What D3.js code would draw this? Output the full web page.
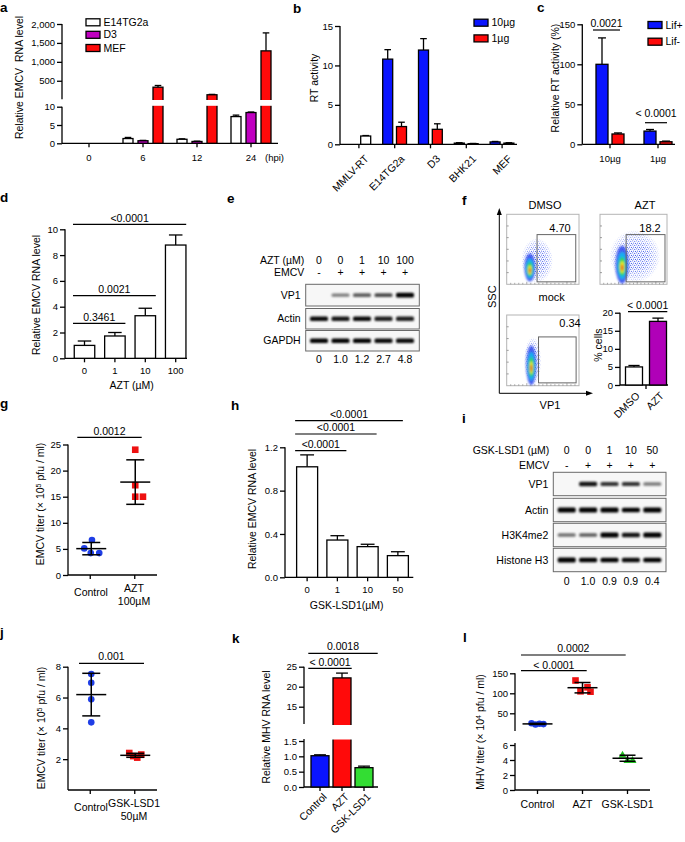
<!DOCTYPE html>
<html><head><meta charset="utf-8">
<script src="https://cdn.jsdelivr.net/npm/d3@7/dist/d3.min.js"></script>
<style>html,body{margin:0;padding:0;background:#fff;}svg{display:block}</style>
</head><body>
<script>
// ===================== DATA =====================
// a
const aTimes = ["0","6","12","24"];
const aSeries = ["E14TG2a","D3","MEF"];
const aE14 = [0, 1.3, 1.1, 7.3];
const aE14Err = [0, 0.3, 0.12, 0.4];
const aD3 = [0, 0.7, 0.5, 8.4];
const aD3Err = [0, 0.1, 0.08, 0.15];
const aMEF = [0, 330, 130, 1290];
const aMEFErr = [0, 45, 10, 475];
const aTicksLow = [0, 5, 10];
const aTicksHigh = [500, 1000, 1500, 2000];
// b
const bCats = ["MMLV-RT","E14TG2a","D3","BHK21","MEF"];
const bSeries = ["10µg","1µg"];
const bMMLV = [1.05, 0, 0, 0, 0];
const bMMLVErr = [0.06, 0, 0, 0, 0];
const b10 = [0, 10.8, 11.95, 0.15, 0.3];
const b10Err = [0, 1.2, 1.45, 0.05, 0.06];
const b1 = [0, 2.25, 1.9, 0.08, 0.15];
const b1Err = [0, 0.55, 0.7, 0.03, 0.05];
const bTicks = [0, 5, 10, 15];
// c
const cCats = ["10µg","1µg"];
const cSeries = ["Lif+","Lif-"];
const cLifPlus = [100, 16.5];
const cLifPlusErr = [33, 2];
const cLifMinus = [12.9, 3.2];
const cLifMinusErr = [1.3, 0.8];
const cTicks = [0, 50, 100, 150];
const cP = ["0.0021", "< 0.0001"];
// d
const dCats = ["0","1","10","100"];
const dVals = [1.0, 1.73, 3.3, 8.78];
const dErr = [0.34, 0.27, 0.58, 0.78];
const dTicks = [0, 2, 4, 6, 8, 10];
const dP = [["0","1","0.3461"],["0","10","0.0021"],["0","100","<0.0001"]];
// e
const eAZT = ["0","0","1","10","100"];
const eEMCV = ["-","+","+","+","+"];
const eRows = ["VP1","Actin","GAPDH"];
const eVP1 = [0, 0.35, 0.5, 0.6, 1.0];
const eActin = [0.9, 0.85, 0.9, 0.8, 0.8];
const eGAPDH = [0.95, 0.95, 0.95, 0.9, 0.9];
const eQuant = ["0","1.0","1.2","2.7","4.8"];
// f
const fPct = ["4.70","18.2","0.34"];
const fCats = ["DMSO","AZT"];
const fVals = [5.0, 17.6];
const fErr = [0.4, 0.9];
const fTicks = [0, 5, 10, 15, 20];
// g
const gCats = ["Control","AZT 100µM"];
const gControl = [5.1, 6.7, 4.2, 4.2];
const gAZT = [24, 17.2, 15, 15];
const gTicks = [0, 5, 10, 15, 20, 25];
// h
const hCats = ["0","1","10","50"];
const hVals = [1.02, 0.344, 0.283, 0.20];
const hErr = [0.11, 0.04, 0.022, 0.036];
const hTicks = [0, 0.4, 0.8, 1.2];
// i
const iLSD = ["0","0","1","10","50"];
const iEMCV = ["-","+","+","+","+"];
const iRows = ["VP1","Actin","H3K4me2","Histone H3"];
const iVP1 = [0, 0.85, 0.7, 0.7, 0.35];
const iActin = [1, 1, 1, 0.95, 1];
const iH3K4 = [0.4, 0.5, 1.0, 0.85, 1.0];
const iH3 = [1, 0.95, 0.95, 0.9, 0.95];
const iQuant = ["0","1.0","0.9","0.9","0.4"];
// j
const jCats = ["Control","GSK-LSD1 50µM"];
const jControl = [7.53, 6.96, 5.88, 4.39];
const jGSK = [2.4, 2.2, 2.1, 2.3];
const jTicks = [2, 4, 6, 8];
// k
const kCats = ["Control","AZT","GSK-LSD1"];
const kVals = [1.02, 22.2, 0.63];
const kErr = [0.03, 1.2, 0.05];
const kTicksLow = [0, 0.5, 1.0, 1.5];
const kTicksHigh = [15, 20, 25];
// l
const lCats = ["Control","AZT","GSK-LSD1"];
const lControl = [25, 22, 24, 23];
const lAZT = [132, 115, 105, 104];
const lGSK = [4.7, 4.0, 4.0];
const lTicksLow = [0, 2, 4, 6];
const lTicksHigh = [50, 100, 150];

// ===================== HELPERS =====================
const FONT = "'Liberation Sans', Arial, Helvetica, sans-serif";
const F = {tick: 9.5, lab: 10.5, panel: 13.5};
const SW = 1.3;
const BLUE = "#0a14ff", RED = "#ff0a0a", PURPLE = "#c000c0", GREEN = "#33dd33";
const svg = d3.select("body").append("svg").attr("width", 685).attr("height", 842)
  .attr("font-family", FONT);
svg.append("rect").attr("width", 685).attr("height", 842).attr("fill", "#fff");
const defs = svg.append("defs");
defs.append("filter").attr("id", "blur1").attr("x", "-50%").attr("y", "-150%").attr("width", "200%").attr("height", "400%")
  .append("feGaussianBlur").attr("stdDeviation", 0.9);
defs.append("filter").attr("id", "blur2").attr("x", "-50%").attr("y", "-50%").attr("width", "200%").attr("height", "200%")
  .append("feGaussianBlur").attr("stdDeviation", 1.1);
// stipple pattern for the sparse part of the flow-cytometry clouds
const pat = defs.append("pattern").attr("id", "dots").attr("patternUnits", "userSpaceOnUse")
  .attr("width", 4).attr("height", 4);
[[0.7, 0.8], [2.7, 1.4], [1.5, 3.1], [3.5, 3.4]].forEach(([x, y]) =>
  pat.append("circle").attr("cx", x).attr("cy", y).attr("r", 0.6).attr("fill", "#3a55ee"));
const fade = defs.append("radialGradient").attr("id", "fade");
[[0, 1], [0.5, 0.85], [0.85, 0.35], [1, 0]].forEach(([o, a]) =>
  fade.append("stop").attr("offset", o).attr("stop-color", "#fff").attr("stop-opacity", a));

function T(x, y, s, o = {}) {
  const t = svg.append("text").attr("x", x).attr("y", y).text(s)
    .attr("font-size", o.size || F.lab).attr("text-anchor", o.anchor || "middle")
    .attr("dy", o.dy === undefined ? "0.35em" : o.dy).attr("fill", o.fill || "#000");
  if (o.weight) t.attr("font-weight", o.weight);
  if (o.rotate !== undefined) t.attr("transform", `rotate(${o.rotate},${x},${y})`);
  return t;
}
function L(x1, y1, x2, y2, o = {}) {
  return svg.append("line").attr("x1", x1).attr("y1", y1).attr("x2", x2).attr("y2", y2)
    .attr("stroke", o.c || "#000").attr("stroke-width", o.w || SW);
}
function R(x, y, w, h, fill, stroke) {
  return svg.append("rect").attr("x", x).attr("y", y).attr("width", w).attr("height", h)
    .attr("fill", fill).attr("stroke", stroke ? "#000" : "none").attr("stroke-width", SW);
}
function panel(x, y, s) { T(x, y, s, {anchor: "start", dy: 0, weight: "bold", size: F.panel}); }
function yAxis(x, scale, ticks, fmt, y0, y1, size) {
  const g = svg.append("g").attr("transform", `translate(${x},0)`)
    .call(d3.axisLeft(scale).tickValues(ticks).tickFormat(fmt).tickSizeOuter(0).tickSizeInner(5).tickPadding(2));
  g.attr("font-family", FONT).attr("font-size", size || F.tick);
  g.select(".domain").remove();
  g.selectAll(".tick line").attr("stroke-width", SW);
  g.selectAll(".tick text").attr("fill", "#000");
  L(x, y0, x, y1);
  return g;
}
function xAxis(y, scale, x0, x1, pad, keepLabels, size) {
  const g = svg.append("g").attr("transform", `translate(0,${y})`)
    .call(d3.axisBottom(scale).tickSizeOuter(0).tickSizeInner(4).tickPadding(pad));
  g.attr("font-family", FONT).attr("font-size", size || F.tick);
  g.select(".domain").remove();
  g.selectAll(".tick line").attr("stroke-width", SW);
  g.selectAll(".tick text").attr("fill", "#000");
  if (!keepLabels) g.selectAll(".tick text").remove();
  L(x0, y, x1, y);
  return g;
}
function cen(scale, c) { return scale(c) + scale.bandwidth() / 2; }
function bar(cx, w, v, e, yL, fill, yU, brk, gap) {
  if (!(v > 0)) return;
  const up = yU && v > brk;
  const top = up ? yU(v) : yL(v);
  const base = yL(0);
  if (e > 0) {
    const et = up ? yU(v + e) : yL(v + e);
    L(cx, top, cx, et); L(cx - w * 0.33, et, cx + w * 0.33, et);
  }
  R(cx - w / 2, top, w, base - top, fill, true);
  if (up) R(cx - w / 2 - 1.5, gap[0], w + 3, gap[1] - gap[0], "#fff", false);
}
function sig(x1, x2, y, label, dyText) {
  L(x1, y, x2, y, {w: 1.2});
  T((x1 + x2) / 2, y - (dyText || 6.3), label, {size: F.lab});
}
function legendBox(x, y, fill, label) {
  R(x, y - 3.5, 14, 7, fill, true);
  T(x + 17.5, y, label, {anchor: "start", size: F.lab});
}
function meanSD(cx, vals, yf, hm, hc) {
  const m = d3.mean(vals), s = d3.deviation(vals);
  L(cx - hm, yf(m), cx + hm, yf(m), {w: 1.5});
  L(cx, yf(m + s), cx, yf(m - s), {w: 1.5});
  L(cx - hc, yf(m + s), cx + hc, yf(m + s), {w: 1.5});
  L(cx - hc, yf(m - s), cx + hc, yf(m - s), {w: 1.5});
}
function marker(type, x, y, fill) {
  if (type === "circle") svg.append("circle").attr("cx", x).attr("cy", y).attr("r", 3.3).attr("fill", fill);
  else if (type === "square") svg.append("rect").attr("x", x - 3.3).attr("y", y - 3.3).attr("width", 6.6).attr("height", 6.6).attr("fill", fill);
  else svg.append("path").attr("d", `M${x},${y - 4}L${x + 4},${y + 3}L${x - 4},${y + 3}Z`).attr("fill", fill);
}
function superLabel(x, y, pre, sup, post) {
  const t = svg.append("text").attr("x", x).attr("y", y).attr("font-size", F.lab)
    .attr("text-anchor", "middle").attr("dy", "0.35em").attr("transform", `rotate(-90,${x},${y})`);
  t.append("tspan").text(pre);
  t.append("tspan").text(sup).attr("font-size", 7).attr("dy", "-0.45em");
  t.append("tspan").text(post).attr("dy", "0.3em");
}
function blot(x0, x1, y0, y1, lx, vals, label) {
  svg.append("rect").attr("x", x0).attr("y", y0).attr("width", x1 - x0).attr("height", y1 - y0)
    .attr("fill", "#f7f7f7").attr("stroke", "#6a6a6a").attr("stroke-width", 1);
  const cy = (y0 + y1) / 2;
  vals.forEach((v, i) => {
    if (v <= 0) return;
    svg.append("rect").attr("x", lx(i) - 9).attr("y", cy - 1.3 - 1.1 * v).attr("width", 18)
      .attr("height", 2.6 + 2.2 * v).attr("rx", 1.5).attr("fill", "#000")
      .attr("opacity", Math.min(1, 0.2 + 0.85 * v)).attr("filter", "url(#blur1)");
  });
  T(x0 - 5, cy, label, {anchor: "end"});
}

// ===================== PANEL a =====================
panel(0, 12, "a");
const aX = d3.scaleBand(aTimes, [62, 278]);
const aYL = d3.scaleLinear([0, 10], [143.3, 106.7]);
const aYU = d3.scaleLinear([10, 2000], [99.3, 24]);
yAxis(62, aYL, aTicksLow, d3.format("d"), 143.3, 106.7);
yAxis(62, aYU, aTicksHigh, d3.format(","), 99.3, 24);
xAxis(143.3, aX, 62, 278, 7, true);
T(265, 157.7, "(hpi)", {anchor: "start", size: F.tick});
[[aE14, aE14Err, "#fff", -15], [aD3, aD3Err, PURPLE, 0], [aMEF, aMEFErr, RED, 15]].forEach(([vals, errs, fill, off]) => {
  vals.forEach((v, i) => bar(cen(aX, aTimes[i]) + off, 10, v, errs[i], aYL, fill, aYU, 10, [100, 105.8]));
});
T(19, 77.5, "Relative EMCV\u00a0 RNA level", {rotate: -90});
legendBox(86, 22.3, "#fff", aSeries[0]);
legendBox(86, 34.8, PURPLE, aSeries[1]);
legendBox(86, 48, RED, aSeries[2]);

// ===================== PANEL b =====================
panel(293, 12.5, "b");
const bX = d3.scaleBand(bCats, [341, 520]);
const bY = d3.scaleLinear([0, 15], [144.3, 26]);
yAxis(340, bY, bTicks, d3.format("d"), 144.3, 26);
xAxis(144.3, bX, 340, 517, 6, false);
bCats.forEach((c, i) => {
  const cx = cen(bX, c);
  bar(cx + 6.8, 10, bMMLV[i], bMMLVErr[i], bY, "#fff");
  bar(cx - 7, 10, b10[i], b10Err[i], bY, BLUE);
  bar(cx + 6.8, 10, b1[i], b1Err[i], bY, RED);
  T(cx + 9, 158, c, {anchor: "end", rotate: -45, dy: "0.2em"});
});
T(314, 78, "RT activity", {rotate: -90});
legendBox(474, 22.7, BLUE, bSeries[0]);
legendBox(474, 38.4, RED, bSeries[1]);

// ===================== PANEL c =====================
panel(537, 11.5, "c");
const cX = d3.scaleBand(cCats, [586, 682]);
const cY = d3.scaleLinear([0, 150], [144.3, 24.3]);
yAxis(582.3, cY, cTicks, d3.format("d"), 144.3, 24.3);
xAxis(144.3, cX, 582.3, 675, 7, true);
cCats.forEach((c, i) => {
  const cx = cen(cX, c);
  bar(cx - 8, 12, cLifPlus[i], cLifPlusErr[i], cY, BLUE);
  bar(cx + 8, 12, cLifMinus[i], cLifMinusErr[i], cY, RED);
});
sig(cen(cX, cCats[0]) - 17, cen(cX, cCats[0]) + 10, 30, cP[0], 6.7);
sig(cen(cX, cCats[1]) - 13, cen(cX, cCats[1]) + 9, 122.7, cP[1], 9.4);
T(555, 78, "Relative RT activity (%)", {rotate: -90});
legendBox(648, 25, BLUE, cSeries[0]);
legendBox(648, 41.7, RED, cSeries[1]);

// ===================== PANEL d =====================
panel(0, 202, "d");
const dX = d3.scaleBand(dCats, [69.3, 190.9]);
const dY = d3.scaleLinear([0, 10], [358.3, 229.3]);
yAxis(65, dY, dTicks, d3.format("d"), 358.3, 229.3);
xAxis(358.3, dX, 65, 187, 5, true);
dCats.forEach((c, i) => bar(cen(dX, c), 20.5, dVals[i], dErr[i], dY, "#fff"));
const dSigY = [323.3, 295.7, 224.3];
dP.forEach(([a, b, p], k) => sig(cen(dX, a) - 11.5, cen(dX, b) + 10.5, dSigY[k], p));
T(131.7, 385, "AZT (µM)");
T(36, 295, "Relative EMCV RNA level", {rotate: -90});

// ===================== PANEL e =====================
panel(227, 203, "e");
const eL = d3.scalePoint(d3.range(5), [319, 405]);
T(304.3, 260.7, "AZT (µM)", {anchor: "end"});
T(304.3, 272.7, "EMCV", {anchor: "end"});
eAZT.forEach((s, i) => T(eL(i), 260.7, s));
eEMCV.forEach((s, i) => T(eL(i), 272.7, s));
blot(305.7, 419.3, 284.3, 306, eL, eVP1, eRows[0]);
blot(305.7, 419.3, 308.5, 329, eL, eActin, eRows[1]);
blot(305.7, 419.3, 330.5, 351, eL, eGAPDH, eRows[2]);
eQuant.forEach((s, i) => T(eL(i), 359.5, s));

// ===================== PANEL f =====================
panel(462, 205, "f");
T(545, 205, "DMSO", {size: 11});
T(645, 205, "AZT", {size: 11});
T(551.7, 297.3, "mock", {size: 11});
const fBoxes = [[506.7, 579, 214.3, 284.3], [600, 667, 214.3, 284.3], [506.7, 579, 315, 385.7]];
const fGates = [[0.42, 0.955, 0.29, 0.965], [0.39, 0.97, 0.29, 0.965], [0.44, 0.96, 0.31, 0.96]];
const fPops = [
  {u: 0.32, v: 0.76, su: 0.075, sv: 0.2, cu: 0.42, cv: 0.66, crx: 0.22, cry: 0.32},
  {u: 0.33, v: 0.72, su: 0.1, sv: 0.27, cu: 0.52, cv: 0.6, crx: 0.38, cry: 0.38},
  {u: 0.34, v: 0.71, su: 0.07, sv: 0.28, cu: 0.36, cv: 0.65, crx: 0.12, cry: 0.34}
];
const layers = [[1.0, "#3550f0", 0.9], [0.72, "#18b0f0", 1], [0.5, "#33d455", 1], [0.32, "#f2ec20", 1], [0.17, "#f03a20", 1]];
fBoxes.forEach((b, k) => {
  const [x0, x1, y0, y1] = b;
  const fx = d3.scaleLinear([0, 1], [x0, x1]), fy = d3.scaleLinear([0, 1], [y0, y1]);
  const W = x1 - x0, H = y1 - y0;
  svg.append("rect").attr("x", x0).attr("y", y0).attr("width", W).attr("height", H)
    .attr("fill", "#fff").attr("stroke", "#b4b4b4").attr("stroke-width", 1);
  d3.range(1, 6).forEach(t => L(x0, fy(t / 6), x0 + 2, fy(t / 6), {w: 0.7, c: "#777"}));
  d3.range(1, 18).forEach(t => L(fx(t / 18), y1, fx(t / 18), y1 - (t % 5 === 0 ? 2.5 : 1.5), {w: 0.6, c: "#777"}));
  const p = fPops[k];
  const mask = defs.append("mask").attr("id", "m" + k).attr("maskUnits", "userSpaceOnUse")
    .attr("x", x0).attr("y", y0).attr("width", W).attr("height", H);
  mask.append("ellipse").attr("cx", fx(p.cu)).attr("cy", fy(p.cv)).attr("rx", W * p.crx).attr("ry", H * p.cry)
    .attr("fill", "url(#fade)");
  svg.append("ellipse").attr("cx", fx(p.cu)).attr("cy", fy(p.cv)).attr("rx", W * p.crx).attr("ry", H * p.cry)
    .attr("fill", "url(#dots)").attr("mask", `url(#m${k})`);
  const g = svg.append("g").attr("filter", "url(#blur2)");
  layers.forEach(([s, col, op]) => {
    g.append("ellipse").attr("cx", fx(p.u)).attr("cy", fy(p.v + (1 - s) * 0.05))
      .attr("rx", W * p.su * s).attr("ry", H * p.sv * s).attr("fill", col).attr("opacity", op);
  });
  const gt = fGates[k];
  svg.append("rect").attr("x", fx(gt[0])).attr("y", fy(gt[2])).attr("width", fx(gt[1]) - fx(gt[0]))
    .attr("height", fy(gt[3]) - fy(gt[2])).attr("fill", "none").attr("stroke", "#666").attr("stroke-width", 1);
});
T(560, 227.7, fPct[0], {size: 11});
T(650, 228, fPct[1], {size: 11});
T(570, 323.3, fPct[2], {size: 11});
L(499.3, 393.3, 499.3, 214, {w: 1});
L(499.3, 393.3, 587, 393.3, {w: 1});
svg.append("path").attr("d", "M499.3,208 L496.8,215 L501.8,215 Z").attr("fill", "#000");
svg.append("path").attr("d", "M593,393.3 L586,390.8 L586,395.8 Z").attr("fill", "#000");
T(491.7, 296.7, "SSC", {rotate: -90, size: 11});
T(550, 405, "VP1", {size: 11});
const fX = d3.scaleBand(fCats, [622, 670]);
const fY = d3.scaleLinear([0, 20], [385, 312.7]);
yAxis(620, fY, fTicks, d3.format("d"), 385, 312.7);
L(620, 385, 668, 385);
L(646, 385, 646, 389);
fCats.forEach((c, i) => {
  bar(cen(fX, c), 17, fVals[i], fErr[i], fY, i === 0 ? "#fff" : "#b000b8");
  T(cen(fX, c) + 5, 395, c, {anchor: "end", rotate: -45, dy: "0.2em"});
});
sig(628, 667.3, 311.7, "< 0.0001", 6.7);
T(598.3, 345, "% cells", {rotate: -90});

// ===================== PANEL g =====================
panel(0, 408, "g");
const gX = d3.scaleBand(gCats, [68, 157]);
const gY = d3.scaleLinear([0, 25], [575, 444.5]);
yAxis(68, gY, gTicks, d3.format("d"), 575, 444.5);
xAxis(575, gX, 68, 157, 0, false);
const gJit = [[-7, 0.7, -0.5, 8], [0, 0, 0, 7.7]];
const gc0 = cen(gX, gCats[0]) + 1, gc1 = cen(gX, gCats[1]) + 0.5;
gControl.forEach((v, i) => marker("circle", gc0 + gJit[0][i], gY(v), "#1f3ee6"));
gAZT.forEach((v, i) => marker("square", gc1 + gJit[1][i], gY(v), "#ee1111"));
meanSD(gc0, gControl, gY, 15, 9);
meanSD(gc1, gAZT, gY, 15, 9);
T(91, 592.7, "Control");
T(134, 588.3, "AZT");
T(134, 601, "100µM");
sig(77.3, 141.7, 437.3, "0.0012", 5.6);
superLabel(40, 504, "EMCV titer (× 10", "5", " pfu / ml)");

// ===================== PANEL h =====================
panel(231, 410, "h");
const hX = d3.scaleBand(hCats, [292, 413]);
const hY = d3.scaleLinear([0, 1.2], [577.3, 447.3]);
yAxis(285, hY, hTicks, d3.format(".1f"), 577.3, 447.3);
xAxis(577.3, hX, 285, 413.3, 5, true);
hCats.forEach((c, i) => bar(cen(hX, c), 21, hVals[i], hErr[i], hY, "#fff"));
const hSigY = [450.7, 434, 420.7];
[1, 2, 3].forEach((j, k) => sig(cen(hX, hCats[0]) - 12, cen(hX, hCats[j]) + (k === 2 ? 5 : 9), hSigY[k], "<0.0001", 6.3));
T(346.7, 605, "GSK-LSD1(µM)");
T(252, 509, "Relative EMCV RNA level", {rotate: -90});

// ===================== PANEL i =====================
panel(462, 423, "i");
const iL = d3.scalePoint(d3.range(5), [566.7, 652.3]);
T(549.3, 450, "GSK-LSD1 (µM)", {anchor: "end"});
T(549.3, 465, "EMCV", {anchor: "end"});
iLSD.forEach((s, i) => T(iL(i), 450, s));
iEMCV.forEach((s, i) => T(iL(i), 465, s));
blot(553.3, 666, 472.3, 495.7, iL, iVP1, iRows[0]);
blot(553.3, 666, 498.3, 521.7, iL, iActin, iRows[1]);
blot(553.3, 666, 523.3, 546.7, iL, iH3K4, iRows[2]);
blot(553.3, 666, 548.3, 571.7, iL, iH3, iRows[3]);
iQuant.forEach((s, i) => T(iL(i), 581.7, s));

// ===================== PANEL j =====================
panel(0, 637, "j");
const jX = d3.scaleBand(jCats, [68, 157]);
const jY = d3.scaleLinear([0, 8], [790, 666.7]);
yAxis(68, jY, jTicks, d3.format("d"), 790, 666.7);
xAxis(790, jX, 68, 157, 0, false);
const jc0 = cen(jX, jCats[0]) + 1, jc1 = cen(jX, jCats[1]) + 0.5;
const jJit = [[0, 0, 0, 0], [-6, -2, 2, 6]];
jControl.forEach((v, i) => marker("circle", jc0 + jJit[0][i], jY(v), "#1f3ee6"));
jGSK.forEach((v, i) => marker("square", jc1 + jJit[1][i], jY(v), "#ee1111"));
meanSD(jc0, jControl, jY, 15, 9);
meanSD(jc1, jGSK, jY, 15, 9);
T(91, 807.7, "Control");
T(134, 803.3, "GSK-LSD1");
T(134, 816, "50µM");
sig(79, 144, 663.3, "0.001", 6.6);
superLabel(41, 728, "EMCV titer (× 10", "5", " pfu / ml)");

// ===================== PANEL k =====================
panel(232, 643, "k");
const kX = d3.scaleBand(kCats, [309, 375]);
const kYL = d3.scaleLinear([0, 1.5], [787, 741]);
const kYU = d3.scaleLinear([15, 25], [706.7, 666.7]);
yAxis(304, kYL, kTicksLow, d3.format(".1f"), 787, 739);
yAxis(304, kYU, kTicksHigh, d3.format("d"), 724, 666.7);
xAxis(787, kX, 304, 378, 0, false);
const kFill = [BLUE, RED, GREEN];
kCats.forEach((c, i) => {
  bar(cen(kX, c), 18, kVals[i], kErr[i], kYL, kFill[i], kYU, 1.6, [725, 739.5]);
  T(cen(kX, c) + 6, 796, c, {anchor: "end", rotate: -45, dy: "0.2em"});
});
sig(308.3, 351.7, 668.3, "< 0.0001", 5.6);
sig(308.3, 377.7, 653.3, "0.0018", 6.6);
T(266, 727, "Relative MHV RNA level", {rotate: -90});

// ===================== PANEL l =====================
panel(463, 642, "l");
const lX = d3.scaleBand(lCats, [515, 650]);
const lYL = d3.scaleLinear([0, 6], [790, 745]);
const lYU = d3.scaleLinear([10, 150], [729.3, 673.3]);
const lY = v => v > 6 ? lYU(v) : lYL(v);
yAxis(515, lYL, lTicksLow, d3.format("d"), 790, 743);
yAxis(515, lYU, lTicksHigh, d3.format("d"), 731, 673.3);
xAxis(790, lX, 515, 650, 7, true, F.lab);
const lJit = [[-6, -2, 2, 6], [-7, 5, -2, 8], [-5, 0, 5]];
const lc = lCats.map(c => cen(lX, c));
lControl.forEach((v, i) => marker("circle", lc[0] + lJit[0][i], lY(v), "#1f3ee6"));
lAZT.forEach((v, i) => marker("square", lc[1] + lJit[1][i], lY(v), "#ee1111"));
lGSK.forEach((v, i) => marker("tri", lc[2] + lJit[2][i], lY(v), "#22c022"));
meanSD(lc[0], lControl, lY, 15, 8);
meanSD(lc[1], lAZT, lY, 15, 8);
meanSD(lc[2], lGSK, lY, 15, 8);
sig(521, 586.7, 670.7, "< 0.0001", 5.7);
sig(521, 625.7, 655, "0.0002", 6.7);
superLabel(480, 732, "MHV titer (× 10", "4", " pfu / ml)");
</script>
</body></html>
